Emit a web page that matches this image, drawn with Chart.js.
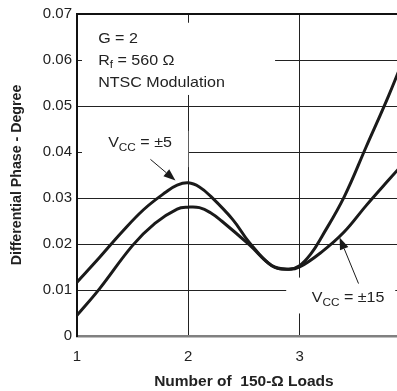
<!DOCTYPE html>
<html>
<head>
<meta charset="utf-8">
<script src="https://cdn.jsdelivr.net/npm/chart.js@4"></script>
<style>
  html, body { margin: 0; padding: 0; background: #fff; overflow: hidden; }
  #wrap { width: 427px; height: 391px; }
</style>
</head>
<body>
<div id="wrap"><canvas id="chart" width="427" height="391"></canvas></div>
<script>
// --- data ---
const loads5 = [1, 1.2, 1.4, 1.6, 1.8, 1.9, 2.0, 2.1, 2.2, 2.4, 2.55, 2.75, 2.9, 3.0, 3.1, 3.2, 3.4, 3.6, 3.8, 4.0];
const phase5 = [0.0117, 0.0170, 0.0225, 0.0275, 0.0313, 0.0328, 0.0333, 0.0324, 0.0304, 0.0253, 0.0203, 0.0153, 0.0145, 0.0153, 0.0178, 0.0216, 0.0302, 0.0412, 0.0522, 0.0642];

const loads15 = [1, 1.2, 1.5, 1.7, 1.9, 2.0, 2.1, 2.2, 2.3, 2.55, 2.75, 2.9, 3.0, 3.2, 3.4, 3.6, 3.8, 4.0];
const phase15 = [0.0045, 0.0102, 0.0197, 0.0245, 0.0276, 0.0280, 0.0279, 0.0268, 0.0250, 0.0198, 0.0153, 0.0145, 0.0150, 0.0183, 0.0226, 0.0284, 0.0339, 0.0393];

const xTickLabels = ['1', '2', '3', '4'];
const yTickLabels = ['0', '0.01', '0.02', '0.03', '0.04', '0.05', '0.06', '0.07'];

const FONT = '"Liberation Sans", Arial, Helvetica, sans-serif';
const INK = '#1a1a1a';

function toPoints(xs, ys) {
    return xs.map((x, i) => ({ x: x, y: ys[i] }));
}

// draw a run of text pieces: [text, size, dy], slightly widened like the scan
function drawRuns(ctx, x, y, runs) {
    ctx.save();
    ctx.translate(x, y);
    ctx.scale(1.07, 1);
    let cx = 0;
    runs.forEach(r => {
        ctx.font = r[1] + 'px ' + FONT;
        ctx.fillText(r[0], cx, r[2] || 0);
        cx += ctx.measureText(r[0]).width;
    });
    ctx.restore();
}

function arrow(ctx, x0, y0, x1, y1) {
    const ang = Math.atan2(y1 - y0, x1 - x0);
    const len = 12, half = 4.5;
    const bx = x1 - len * Math.cos(ang), by = y1 - len * Math.sin(ang);
    ctx.beginPath();
    ctx.moveTo(x0, y0);
    ctx.lineTo(bx, by);
    ctx.lineWidth = 1;
    ctx.strokeStyle = INK;
    ctx.stroke();
    ctx.beginPath();
    ctx.moveTo(x1, y1);
    ctx.lineTo(bx + half * Math.sin(ang), by - half * Math.cos(ang));
    ctx.lineTo(bx - half * Math.sin(ang), by + half * Math.cos(ang));
    ctx.closePath();
    ctx.fillStyle = INK;
    ctx.fill();
}

// white boxes behind labels, then labels and arrows
const labelsPlugin = {
    id: 'labels',
    beforeDatasetsDraw(chart) {
        const { ctx, scales: { x, y }, chartArea } = chart;
        const box = (x0, y0, x1, y1) => {
            const l = x.getPixelForValue(x0), r = x.getPixelForValue(x1);
            const t = y.getPixelForValue(y0), b = y.getPixelForValue(y1);
            ctx.fillStyle = '#fff';
            ctx.fillRect(l, t, r - l, b - t);
        };
        ctx.save();
        box(1.045, 0.0681, 2.78, 0.0524);
        box(1.045, 0.0446, 2.0, 0.0367);
        box(2.88, 0.0127, 3.86, 0.0049);
        // top frame line
        ctx.beginPath();
        ctx.moveTo(chartArea.left, chartArea.top);
        ctx.lineTo(chartArea.right, chartArea.top);
        ctx.lineWidth = 2;
        ctx.strokeStyle = '#111';
        ctx.stroke();
        ctx.restore();
    },
    afterDatasetsDraw(chart) {
        const { ctx, scales: { x, y } } = chart;
        const px = v => x.getPixelForValue(v), py = v => y.getPixelForValue(v);
        ctx.save();
        ctx.fillStyle = '#222';
        ctx.textBaseline = 'alphabetic';
        ctx.textAlign = 'left';

        const gx = px(1.19), gy = py(0.0637);
        drawRuns(ctx, gx, gy, [['G = 2', 15]]);
        drawRuns(ctx, gx, gy + 22, [['R', 15], ['f', 11, 3], [' = 560 \u03A9', 15]]);
        drawRuns(ctx, gx, gy + 44, [['NTSC Modulation', 15]]);

        drawRuns(ctx, px(1.28), py(0.041), [['V', 15], ['CC', 11, 4], [' = \u00B15', 15]]);
        drawRuns(ctx, px(3.11), py(0.0073), [['V', 15], ['CC', 11, 4], [' = \u00B115', 15]]);

        arrow(ctx, px(1.66), py(0.0384), px(1.885), py(0.0338));
        arrow(ctx, px(3.53), py(0.0114), px(3.36), py(0.0214));
        ctx.restore();
    }
};

new Chart(document.getElementById('chart'), {
    type: 'line',
    data: {
        datasets: [
            { label: 'VCC = ±5', data: toPoints(loads5, phase5) },
            { label: 'VCC = ±15', data: toPoints(loads15, phase15) }
        ]
    },
    options: {
        responsive: false,
        animation: false,
        layout: { padding: { top: 10, right: 12, bottom: 0, left: 0 } },
        elements: {
            line: { borderColor: INK, borderWidth: 3, tension: 0.4, fill: false, borderCapStyle: 'round', borderJoinStyle: 'round' },
            point: { radius: 0 }
        },
        plugins: { legend: { display: false }, tooltip: { enabled: false } },
        scales: {
            x: {
                type: 'linear',
                min: 1, max: 4,
                afterFit: s => { s.height = 55; },
                border: { color: '#808080', width: 2.5 },
                grid: { color: '#222', lineWidth: 1, drawTicks: false },
                ticks: {
                    stepSize: 1, padding: 12, color: '#222',
                    font: { family: FONT, size: 15 },
                    callback: v => xTickLabels[Math.round(v) - 1]
                },
                title: {
                    display: true, text: 'Number of  150-\u03A9 Loads', color: '#222',
                    font: { family: FONT, size: 15.5, weight: 'bold' },
                    padding: { top: 0, bottom: 0 }
                }
            },
            y: {
                min: 0, max: 0.07,
                afterFit: s => { s.width = 77; },
                border: { color: '#111', width: 2 },
                grid: { color: '#222', lineWidth: 1, drawTicks: false },
                ticks: {
                    stepSize: 0.01, padding: 5, color: '#222',
                    font: { family: FONT, size: 15 },
                    callback: v => yTickLabels[Math.round(v * 100)]
                },
                title: {
                    display: true, text: 'Differential Phase - Degree', color: '#222',
                    font: { family: FONT, size: 14.2, weight: 'bold' },
                    padding: { top: 9, bottom: 0 }
                }
            }
        }
    },
    plugins: [labelsPlugin]
});
</script>
</body>
</html>
